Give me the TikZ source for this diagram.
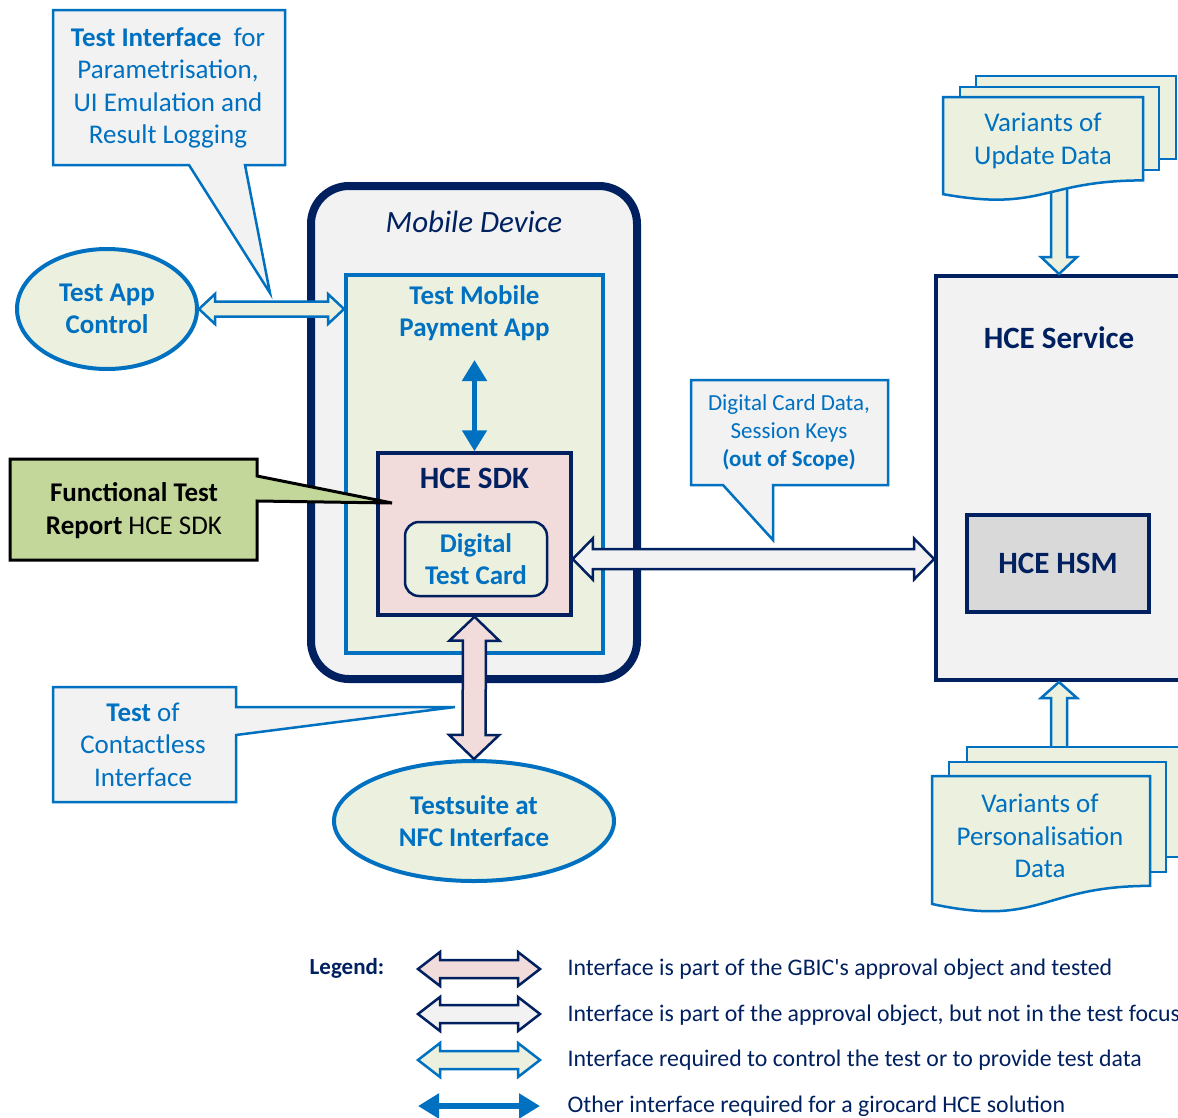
\documentclass[tikz,border=0pt]{standalone}
\usepackage{fontspec}
\setmainfont{Carlito}
\usetikzlibrary{calc,arrows.meta,shapes.geometric}

\definecolor{cNavy}{HTML}{002060}
\definecolor{cBlue}{HTML}{0070C0}
\definecolor{cGreen}{HTML}{EBF1DE}
\definecolor{cGray}{HTML}{F2F2F2}
\definecolor{cPink}{HTML}{F2DCDB}
\definecolor{cHsm}{HTML}{D9D9D9}
\definecolor{cOlive}{HTML}{C4D79B}

% document shape with a wavy lower edge: #2,#3 top-left, #4 width, #5 height
\newcommand\docshape[5][]{%
  \draw[#1] (#2,#3) -- ({#2+#4},#3) -- ({#2+#4},{#3+0.802*#5})
    .. controls ({#2+0.5*#4},{#3+0.802*#5}) and ({#2+0.5*#4},{#3+1.107*#5})
    .. (#2,{#3+0.934*#5}) -- cycle;}

\tikzset{
  big/.style={font=\fontsize{27}{32.5}\selectfont, align=center},
  bigbold/.style={font=\fontsize{27}{32.5}\selectfont\bfseries, align=center},
  heading/.style={font=\fontsize{31}{36}\selectfont\bfseries, text=cNavy, align=center},
  small/.style={font=\fontsize{23}{28}\selectfont, align=center},
  callout/.style={draw=cBlue, fill=cGray, line width=2.5pt, line join=miter},
  docbox/.style={draw=cBlue, fill=cGreen, line width=2.5pt},
  % hollow double-headed block arrow: half shaft width, half head width, head length
  fatdbl/.style n args={3}{line join=miter, to path={
    -- ($(\tikztostart)!#3!(\tikztotarget)!#2!90:(\tikztotarget)$)
    -- ($(\tikztostart)!#3!(\tikztotarget)!#1!90:(\tikztotarget)$)
    -- ($(\tikztotarget)!#3!(\tikztostart)!#1!-90:(\tikztostart)$)
    -- ($(\tikztotarget)!#3!(\tikztostart)!#2!-90:(\tikztostart)$)
    -- (\tikztotarget)
    -- ($(\tikztotarget)!#3!(\tikztostart)!#2!90:(\tikztostart)$)
    -- ($(\tikztotarget)!#3!(\tikztostart)!#1!90:(\tikztostart)$)
    -- ($(\tikztostart)!#3!(\tikztotarget)!#1!-90:(\tikztotarget)$)
    -- ($(\tikztostart)!#3!(\tikztotarget)!#2!-90:(\tikztotarget)$)
    -- cycle}},
  % hollow single-headed block arrow pointing at the target
  fatsgl/.style n args={3}{line join=miter, to path={
    -- ($(\tikztostart)!#1!90:(\tikztotarget)$)
    -- ($(\tikztotarget)!#3!(\tikztostart)!#1!-90:(\tikztostart)$)
    -- ($(\tikztotarget)!#3!(\tikztostart)!#2!-90:(\tikztostart)$)
    -- (\tikztotarget)
    -- ($(\tikztotarget)!#3!(\tikztostart)!#2!90:(\tikztostart)$)
    -- ($(\tikztotarget)!#3!(\tikztostart)!#1!90:(\tikztostart)$)
    -- ($(\tikztostart)!#1!-90:(\tikztotarget)$)
    -- cycle}},
  pinkarrow/.style={fatdbl={#1}, draw=cNavy, fill=cPink, line width=2.5pt},
  grayarrow/.style={fatdbl={#1}, draw=cNavy, fill=cGray, line width=2.5pt},
  greenarrow/.style={fatdbl={#1}, draw=cBlue, fill=cGreen, line width=2.5pt},
  greensingle/.style={fatsgl={#1}, draw=cBlue, fill=cGreen, line width=2.5pt},
  solidarrow/.style={draw=cBlue, line width=5pt,
    {Triangle[length=21pt,width=24pt]}-{Triangle[length=21pt,width=24pt]}},
}

\begin{document}
\begin{tikzpicture}[x=1pt,y=-1pt]
\path[fill=white, use as bounding box] (0,0) rectangle (1178,1117);

% ---------------- mobile device ----------------
\node[draw=cNavy, fill=cGray, line width=8pt, rounded corners=38pt,
      minimum width=326pt, minimum height=493pt] (dev) at (474,432.5) {};
\node[font=\fontsize{31}{36}\selectfont\itshape, text=cNavy] (devlabel) at (474,222) {Mobile Device};

\node[draw=cBlue, fill=cGreen, line width=4pt,
      minimum width=257pt, minimum height=378pt] (app) at (474.5,464) {};
\node[bigbold, text=cBlue] (applabel) at (474.5,313) {Test Mobile\\Payment App};

\node[draw=cNavy, fill=cPink, line width=3.5pt,
      minimum width=193pt, minimum height=162pt] (sdk) at (474.5,534) {};
\node[heading] (sdklabel) at (474.5,478) {HCE SDK};

\node[draw=cNavy, fill=cGreen, line width=2.5pt, rounded corners=14pt,
      minimum width=142pt, minimum height=74pt, text=cBlue, bigbold] (dtc) at (476,559) {Digital\\Test Card};

% payment app <-> SDK
\coordinate (apparrow) at (474.5,360);
\draw[solidarrow] (apparrow) -- (sdk.north);

% ---------------- HCE service ----------------
\node[draw=cNavy, fill=cGray, line width=4pt,
      minimum width=246pt, minimum height=404pt] (svc) at (1059,478) {};
\node[heading] (svclabel) at (1059,338) {HCE Service};
\node[draw=cNavy, fill=cHsm, line width=3.5pt, minimum width=182pt, minimum height=97pt,
      heading] (hsm) at (1058,563.5) {HCE HSM};

% ---------------- outer elements ----------------
\node[ellipse, draw=cBlue, fill=cGreen, line width=4pt, minimum width=180pt, minimum height=120pt,
      inner sep=0pt, bigbold, text=cBlue] (tac) at (107,309) {Test App\\Control};
\node[ellipse, draw=cBlue, fill=cGreen, line width=4pt, minimum width=280pt, minimum height=120pt,
      inner sep=0pt, bigbold, text=cBlue] (nfc) at (474,821) {Testsuite at\\NFC Interface};

% ---------------- interfaces ----------------
\draw[greenarrow={7.5pt}{15pt}{16pt}] (tac.east) to (tac.east -| app.west);
\draw[pinkarrow={11.5pt}{25pt}{24pt}] (sdk.south) to (nfc.north);
\draw[grayarrow={10pt}{20.5pt}{20pt}] (dtc.east -| sdk.east) to (dtc.east -| svc.west);

% ---------------- data variants ----------------
\coordinate (updfrom) at (svc.north |- 0,185);
\draw[greensingle={8pt}{18pt}{17pt}] (updfrom) to (svc.north);
\draw[docbox] (976,76) rectangle (1176,159);
\draw[docbox] (960,87) rectangle (1159,170);
\docshape[docbox]{943}{97}{200}{104}
\node[big, text=cBlue] (upd) at (1043,141) {Variants of\\Update Data};

\coordinate (persfrom) at (svc.south |- 0,752);
\draw[greensingle={8pt}{18pt}{16pt}] (persfrom) to (svc.south);
\draw[docbox] (967,747) rectangle (1186,857);
\draw[docbox] (949,762) rectangle (1166,872);
\docshape[docbox]{932}{776}{218}{137}
\node[big, text=cBlue] (pers) at (1040,836) {Variants of\\Personalisation\\Data};

% ---------------- callouts ----------------
\draw[callout] (53,10) -- (285,10) -- (285,165) -- (245,165) -- (270,293)
  -- (189,165) -- (53,165) -- cycle;
\node[big, text=cBlue] (tif) at (168,88)
  {\textbf{Test Interface}\ \ for\\Parametrisation,\\UI Emulation and\\Result Logging};

\draw[draw=black, fill=cOlive, line width=3pt, line join=miter]
  (10,459) -- (257,459) -- (257,476) -- (392,503) -- (257,501) -- (257,560) -- (10,560) -- cycle;
\node[big, text=black] (ftr) at (134,510.5) {\textbf{Functional Test}\\\textbf{Report} HCE SDK};

\draw[callout] (53,687) -- (236,687) -- (236,707) -- (455,707) -- (236,735)
  -- (236,802) -- (53,802) -- cycle;
\node[big, text=cBlue] (tci) at (143,744.5) {\textbf{Test} of\\Contactless\\Interface};

\draw[callout] (691,380) -- (888,380) -- (888,485) -- (773,485) -- (773,540)
  -- (723,485) -- (691,485) -- cycle;
\node[small, text=cBlue] (dcd) at (789,432) {Digital Card Data,\\Session Keys\\\textbf{(out of Scope)}};

% ---------------- legend ----------------
\node[font=\fontsize{23}{28}\selectfont\bfseries, text=cNavy] (leg) at (347,968) {Legend:};
\coordinate (l1a) at (418,969);  \coordinate (l1b) at (540,969);
\coordinate (l2a) at (418,1014); \coordinate (l2b) at (540,1014);
\coordinate (l3a) at (418,1060); \coordinate (l3b) at (540,1060);
\coordinate (l4a) at (418,1106); \coordinate (l4b) at (540,1106);
\draw[pinkarrow={9pt}{17pt}{22pt}] (l1a) to (l1b);
\draw[grayarrow={9pt}{17pt}{22pt}] (l2a) to (l2b);
\draw[greenarrow={9pt}{17pt}{22pt}] (l3a) to (l3b);
\draw[solidarrow, line width=6pt] (l4a) -- (l4b);
\begin{scope}[every node/.style={anchor=west, text=cNavy, font=\fontsize{23.8}{28}\selectfont}]
\node (t1) at (564,969) {Interface is part of the GBIC\textquotesingle s approval object and tested};
\node (t2) at (564,1015) {Interface is part of the approval object, but not in the test focus};
\node (t3) at (564,1060) {Interface required to control the test or to provide test data};
\node (t4) at (564,1106) {Other interface required for a girocard HCE solution};
\end{scope}
\end{tikzpicture}
\end{document}
